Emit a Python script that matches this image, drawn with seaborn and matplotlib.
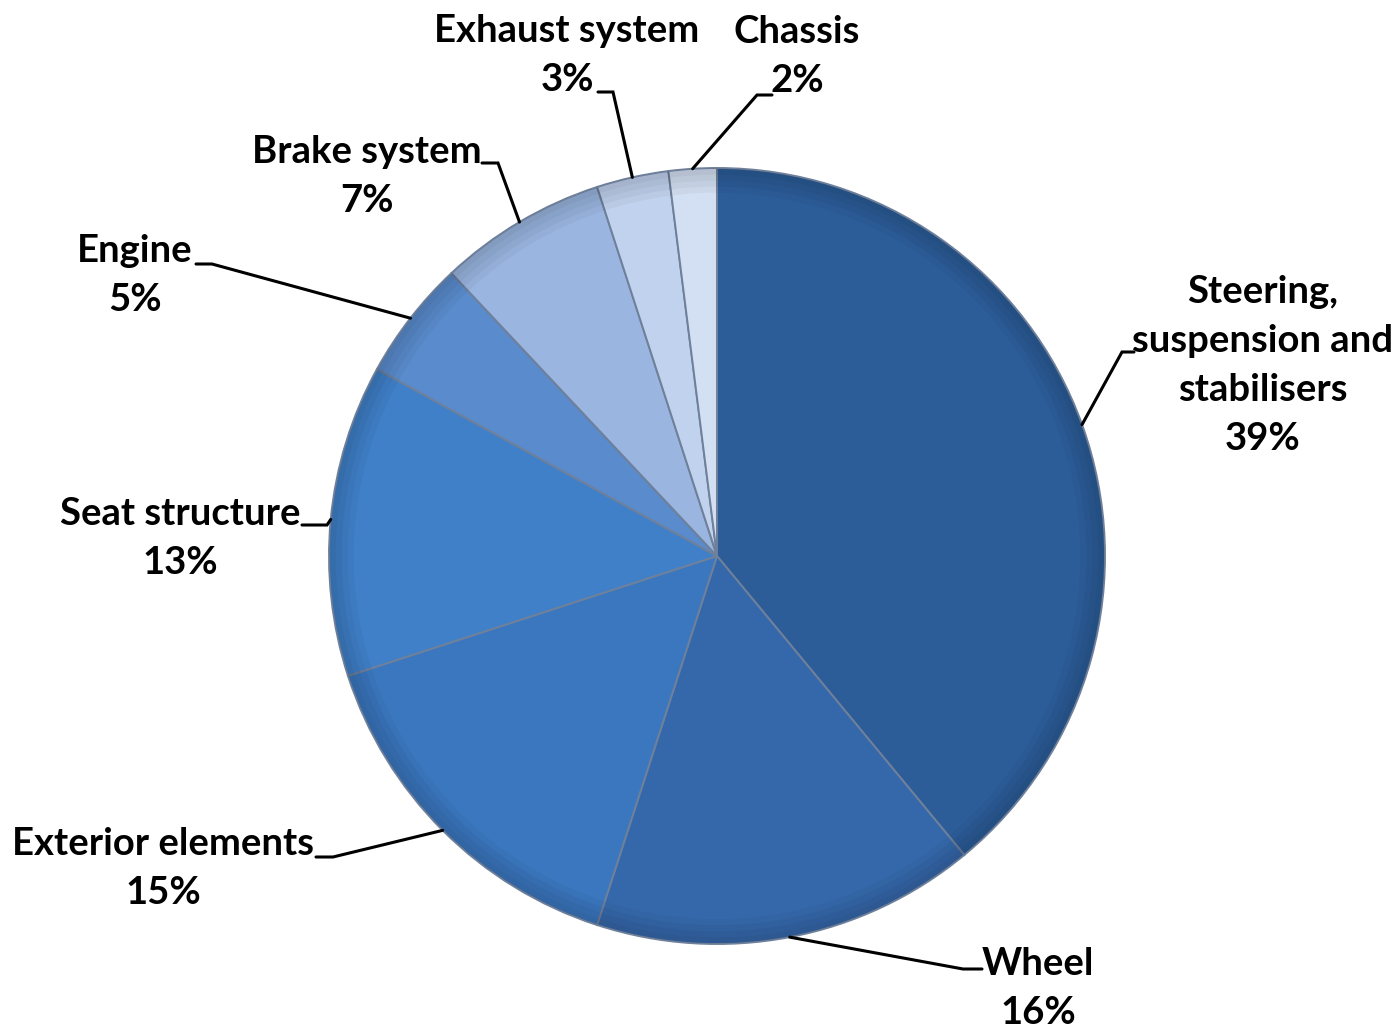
import matplotlib
matplotlib.use("Agg")
import matplotlib.pyplot as plt
import seaborn as sns
import numpy as np

# ---- data ----
categories = ["Steering,\nsuspension and\nstabilisers", "Wheel", "Exterior elements",
              "Seat structure", "Engine", "Brake system", "Exhaust system", "Chassis"]
shares = [39, 16, 15, 13, 5, 7, 3, 2]
colors = ["#2C5D99", "#3568AA", "#3B77BE", "#4080C8", "#5A8BCC", "#9AB5DF", "#C1D2EE", "#D3DFF2"]

# ---- layout (pixel coords, y down) ----
W, H = 1399, 1031
# label centre x, first-line baseline y
label_pos = [(1263, 303), (1038, 975), (163, 855), (180, 525), (135, 262),
             (367, 163), (567, 42), (797, 43)]
# leader start point (next to text) and elbow point
leader_start = [(1134, 352), (982, 969), (316, 857), (302, 525), (196, 264),
                (482, 163), (598, 92), (772, 95)]
leader_elbow = [(1122, 352), (963, 969), (333, 857), (327, 525), (212, 264),
                (498, 163), (613, 92), (757, 95)]
line_pitch = 49
fs = 27.5

sns.set_theme(style="white")
plt.rcParams["font.family"] = ["Lato", "DejaVu Sans"]

fig = plt.figure(figsize=(W / 100, H / 100), dpi=100)
ax = fig.add_axes([0, 0, 1, 1])

cx, cy, R = 717, H - 556, 388
palette = sns.color_palette(colors)
wedges, _ = ax.pie(shares, colors=palette, startangle=90, counterclock=False,
                   center=(cx, cy), radius=R, frame=True,
                   wedgeprops=dict(edgecolor="#6f809b", linewidth=1.4))
# soft bevel: stacked translucent rings darken towards the outer edge
for wdt in (24, 18, 12, 6):
    ax.pie(shares, colors=["black"] * len(shares), startangle=90, counterclock=False,
           center=(cx, cy), radius=R - 0.7, frame=True,
           wedgeprops=dict(width=wdt, alpha=0.035, linewidth=0))
ax.set_xlim(0, W)
ax.set_ylim(0, H)
ax.set_aspect("equal")
ax.axis("off")

for i, w in enumerate(wedges):
    mid = np.deg2rad((w.theta1 + w.theta2) / 2)
    ex, ey = cx + R * np.cos(mid), cy + R * np.sin(mid)
    sx, sy = leader_start[i]
    bx, by = leader_elbow[i]
    ax.plot([sx, bx, ex], [H - sy, H - by, ey], color="black", lw=2.2,
            solid_joinstyle="miter", zorder=5)
    lines = categories[i].split("\n") + [f"{shares[i]}%"]
    x0, y0 = label_pos[i]
    for k, t in enumerate(lines):
        ax.text(x0, H - (y0 + k * line_pitch), t, ha="center", va="baseline",
                fontsize=fs, fontweight="bold", color="black")

fig.savefig("out.png", dpi=100, facecolor="white")
